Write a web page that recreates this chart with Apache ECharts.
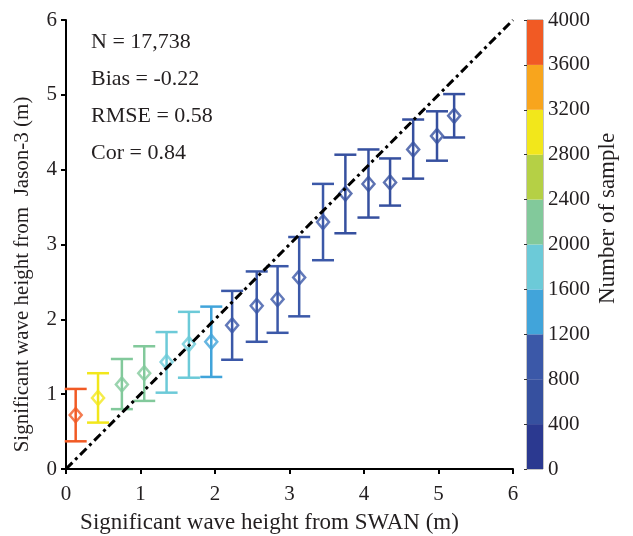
<!DOCTYPE html>
<html>
<head>
<meta charset="utf-8">
<script src="https://cdn.jsdelivr.net/npm/echarts@6/dist/echarts.min.js"></script>
<style>
  html, body { margin: 0; padding: 0; background: #fff; }
  #chart { width: 633px; height: 536px; }
</style>
</head>
<body>
<div id="chart"></div>
<script>
// Binned comparison: SWAN model Hs (x) vs Jason-3 altimeter Hs (y)
const binCenters = [0.13, 0.43, 0.75, 1.05, 1.35, 1.65, 1.95, 2.23, 2.56, 2.84, 3.13, 3.45, 3.75, 4.06, 4.35, 4.66, 4.98, 5.21];
const meanJason  = [0.72, 0.95, 1.13, 1.28, 1.43, 1.67, 1.70, 1.92, 2.18, 2.27, 2.56, 3.30, 3.68, 3.81, 3.83, 4.27, 4.45, 4.72];
const upperJason = [1.07, 1.28, 1.47, 1.64, 1.83, 2.10, 2.17, 2.38, 2.64, 2.71, 3.10, 3.81, 4.20, 4.27, 4.15, 4.67, 4.78, 5.01];
const lowerJason = [0.37, 0.62, 0.80, 0.91, 1.02, 1.22, 1.23, 1.46, 1.70, 1.82, 2.04, 2.79, 3.15, 3.36, 3.52, 3.88, 4.12, 4.43];
const sampleCount = [3800, 3000, 2200, 2100, 1800, 1700, 1300, 1000, 950, 900, 850, 800, 700, 650, 600, 550, 500, 450];

// Colour bar levels (number of samples) and their colours
const countTicks = [0, 400, 800, 1200, 1600, 2000, 2400, 2800, 3200, 3600, 4000];
const levelColors = ['#2B3990', '#36509F', '#3B58A8', '#41A4DA', '#6CCAD8', '#82C99B', '#B5D045', '#F2E71B', '#F8A51D', '#F15A24'];

// Statistics annotation
const statLines = ['N = 17,738', 'Bias = -0.22', 'RMSE = 0.58', 'Cor = 0.84'];
const axisTicks = [0, 1, 2, 3, 4, 5, 6];

const FONT = 'Liberation Serif';
const TXT = '#231F20';

function colorFor(n) {
  for (let i = 0; i < countTicks.length - 1; i++) {
    if (n >= countTicks[i] && n < countTicks[i + 1]) return levelColors[i];
  }
  return levelColors[levelColors.length - 1];
}

const points = binCenters.map((x, i) => [x, meanJason[i], lowerJason[i], upperJason[i], sampleCount[i]]);
const levels = levelColors.map((c, i) => [countTicks[i], countTicks[i + 1], i]);

const chart = echarts.init(document.getElementById('chart'), null, { renderer: 'canvas' });

const option = {
  backgroundColor: '#fff',
  animation: false,
  grid: [
    { left: 66, right: 120, top: 20, bottom: 67, outerBoundsMode: 'none', containLabel: false },
    { left: 527, width: 16, top: 20, bottom: 67, outerBoundsMode: 'none', containLabel: false,
      show: true, borderColor: '#8a8a8a', borderWidth: 1 }
  ],
  xAxis: [
    {
      gridIndex: 0, type: 'value', min: axisTicks[0], max: axisTicks[axisTicks.length - 1], interval: 1,
      name: 'Significant wave height from SWAN (m)', nameLocation: 'middle', nameGap: 42,
      nameTextStyle: { fontFamily: FONT, fontSize: 23, color: TXT, padding: [0, 40, 0, 0] },
      axisLine: { show: true, onZero: false, lineStyle: { color: '#000', width: 2 } },
      axisTick: { show: true, inside: false, length: 5, lineStyle: { color: '#000', width: 2 } },
      axisLabel: { fontFamily: FONT, fontSize: 21, color: TXT, margin: 15 },
      splitLine: { show: false }
    },
    {
      gridIndex: 1, type: 'value', min: 0, max: 1, show: false
    }
  ],
  yAxis: [
    {
      gridIndex: 0, type: 'value', min: axisTicks[0], max: axisTicks[axisTicks.length - 1], interval: 1,
      name: 'Significant wave height from  Jason-3 (m)', nameLocation: 'middle', nameGap: 33,
      nameTextStyle: { fontFamily: FONT, fontSize: 21, color: TXT, padding: [0, 60, 0, 0] },
      axisLine: { show: true, onZero: false, lineStyle: { color: '#000', width: 2 } },
      axisTick: { show: true, inside: false, length: 5, lineStyle: { color: '#000', width: 2 } },
      axisLabel: { fontFamily: FONT, fontSize: 21, color: TXT, margin: 9 },
      splitLine: { show: false }
    },
    {
      gridIndex: 1, type: 'value', position: 'right', min: countTicks[0], max: countTicks[countTicks.length - 1], interval: 400,
      name: 'Number of sample', nameLocation: 'middle', nameGap: 53, nameRotate: 90,
      nameTextStyle: { fontFamily: FONT, fontSize: 23, color: TXT, padding: [0, 0, 0, 52] },
      axisLine: { show: false },
      axisTick: { show: true, inside: true, length: 3, lineStyle: { color: '#333', width: 1 } },
      axisLabel: { fontFamily: FONT, fontSize: 21, color: TXT, margin: 5, formatter: v => String(v) },
      splitLine: { show: false }
    }
  ],
  graphic: statLines.map((t, i) => ({
    type: 'text', left: 91, top: 31 + i * 37,
    style: { text: t, font: '22px "Liberation Serif"', fill: TXT }
  })),
  series: [
    {
      // 1:1 reference line
      type: 'line', xAxisIndex: 0, yAxisIndex: 0,
      data: [[axisTicks[0], axisTicks[0]], [axisTicks[6], axisTicks[6]]],
      symbol: 'none', silent: true, z: 5,
      lineStyle: { color: '#000', width: 3, type: [9, 4, 3, 4] }
    },
    {
      // error bars (lower to upper) with caps
      type: 'custom', xAxisIndex: 0, yAxisIndex: 0, z: 3,
      data: points,
      renderItem: function (params, api) {
        const x = api.value(0);
        const lo = api.coord([x, api.value(2)]);
        const hi = api.coord([x, api.value(3)]);
        const col = colorFor(api.value(4));
        const half = 11;
        const st = { stroke: col, lineWidth: 2.5, fill: null };
        return {
          type: 'group',
          children: [
            { type: 'line', shape: { x1: lo[0], y1: lo[1], x2: hi[0], y2: hi[1] }, style: st },
            { type: 'line', shape: { x1: lo[0] - half, y1: lo[1], x2: lo[0] + half, y2: lo[1] }, style: st },
            { type: 'line', shape: { x1: hi[0] - half, y1: hi[1], x2: hi[0] + half, y2: hi[1] }, style: st }
          ]
        };
      }
    },
    {
      // bin means as hollow diamonds
      type: 'scatter', xAxisIndex: 0, yAxisIndex: 0, z: 4,
      data: points.map(p => ({
        value: [p[0], p[1]],
        itemStyle: { color: 'rgba(255,255,255,0)', borderColor: colorFor(p[4]), borderWidth: 2.5 }
      })),
      symbol: 'diamond', symbolSize: [12, 14]
    },
    {
      // colour bar
      type: 'custom', xAxisIndex: 1, yAxisIndex: 1, silent: true,
      data: levels,
      renderItem: function (params, api) {
        const p0 = api.coord([0, api.value(0)]);
        const p1 = api.coord([1, api.value(1)]);
        return {
          type: 'rect',
          shape: { x: p0[0], y: p1[1], width: p1[0] - p0[0], height: p0[1] - p1[1] },
          style: { fill: levelColors[api.value(2)] }
        };
      }
    }
  ]
};

chart.setOption(option);
</script>
</body>
</html>
